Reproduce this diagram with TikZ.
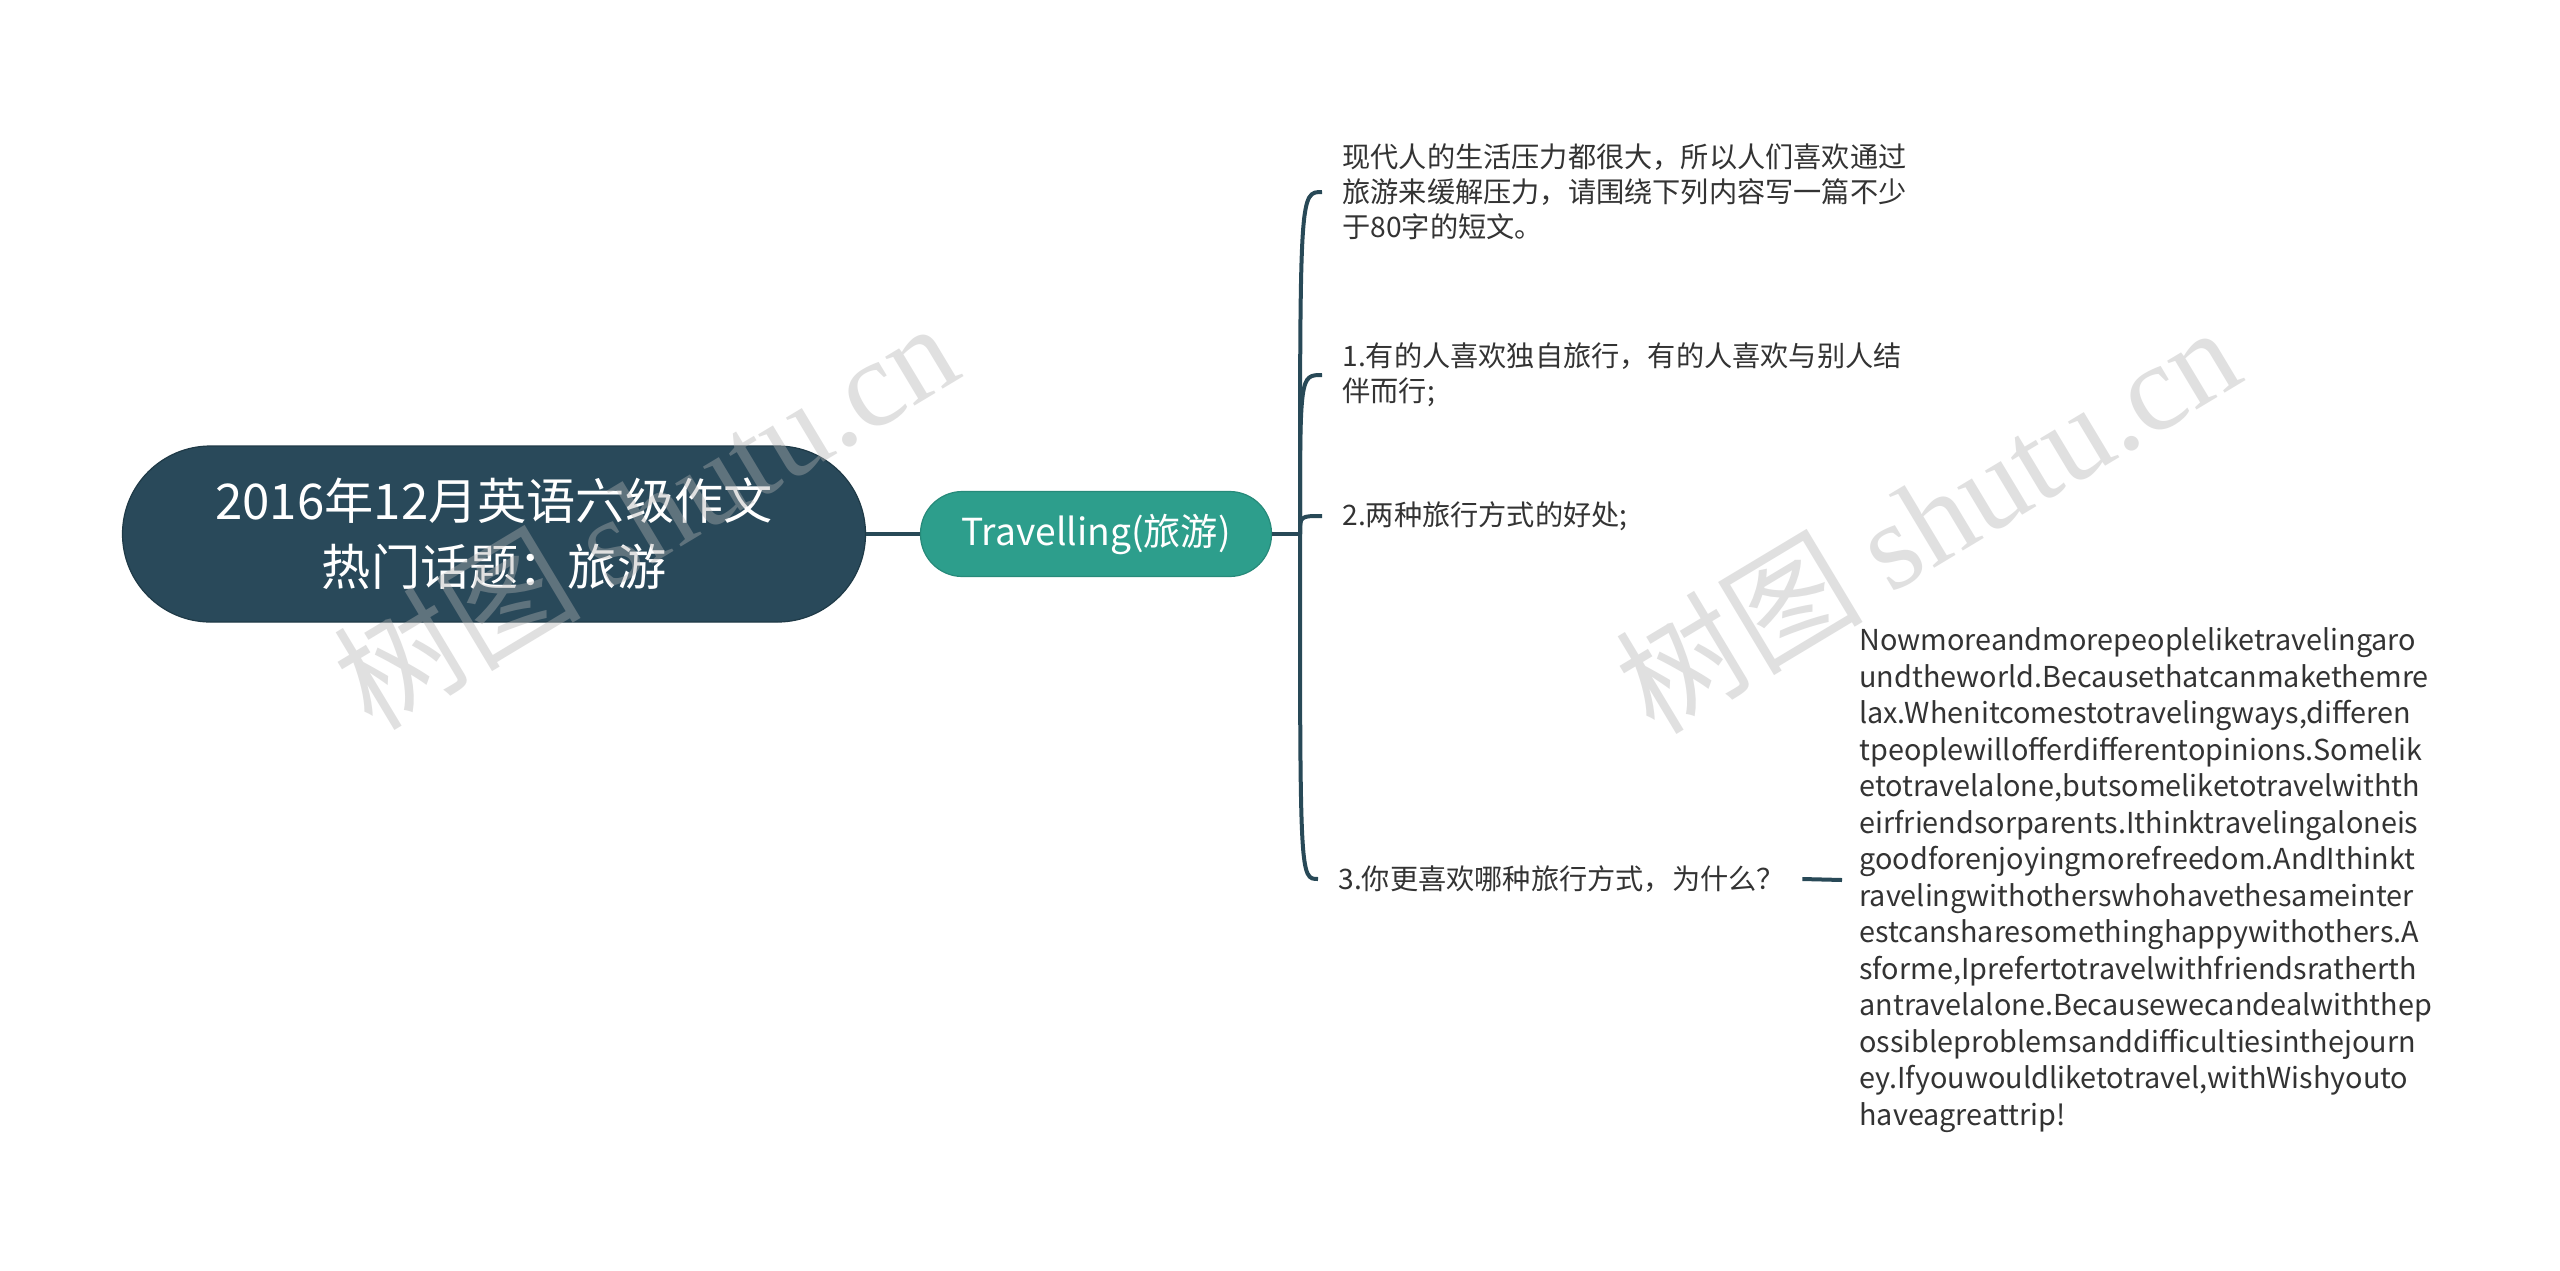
\documentclass[tikz,border=0pt]{standalone}
\usepackage{fontspec}
\setmainfont{Noto Sans CJK SC}
\newfontfamily\wmserif{Liberation Serif}
\newfontfamily\cjkf{Noto Sans CJK SC}
\definecolor{rootc}{HTML}{29495A}
\definecolor{rootd}{HTML}{1F3A47}
\definecolor{subc}{HTML}{2D9E8C}
\definecolor{subd}{HTML}{278A7A}
\definecolor{linec}{HTML}{284957}
\definecolor{leafc}{HTML}{333333}
\begin{document}
\begin{tikzpicture}[x=0.5pt,y=-0.5pt,
  conn/.style={draw=linec, line width=2pt},
  rootbox/.style={fill=rootc, draw=rootd, line width=0.6pt, rounded corners=44pt,
    minimum width=371.5pt, minimum height=88pt, text=white,
    font=\fontsize{24.6}{33}\selectfont, align=center, inner sep=0pt},
  subbox/.style={fill=subc, draw=subd, line width=0.6pt, rounded corners=21pt,
    minimum width=175.5pt, minimum height=42.5pt, text=white,
    font=\fontsize{18.6}{22}\selectfont, inner sep=0pt},
  leaf/.style={anchor=west, inner sep=0pt, text=leafc, align=left,
    font=\fontsize{14.1}{17.5}\selectfont},
  wm/.style={text=gray!60, opacity=0.4, rotate=31, inner sep=0pt,
    font=\fontsize{62}{62}\selectfont}]
\useasboundingbox (0,0) rectangle (2560,1270);
\fill[white] (0,0) rectangle (2560,1270);

\node[rootbox] (root) at (494,534) {2016年12月英语六级作文\\热门话题：旅游};
\node[subbox] (sub) at (1096,534) {Travelling(旅游)};
\draw[conn] (root.east) -- (sub.west);
\coordinate (sp) at (1300,534);
\draw[conn] (sub.east) -- (sp);

\node[leaf] (c0) at (1342,192) {现代人的生活压力都很大，所以人们喜欢通过\\旅游来缓解压力，请围绕下列内容写一篇不少\\于80字的短文。};
\node[leaf] (c1) at (1342,375) {1.有的人喜欢独自旅行，有的人喜欢与别人结\\伴而行;};
\node[leaf] (c2) at (1342,516) {2.两种旅行方式的好处;};
\node[leaf] (c3) at (1338,879) {3.你更喜欢哪种旅行方式，为什么？};
\node[leaf, font=\fontsize{14.4}{18.25}\selectfont] (long) at (1859,880) {Nowmoreandmorepeopleliketravelingaro\\
undtheworld.Becausethatcanmakethemre\\
lax.Whenitcomestotravelingways,differen\\
tpeoplewillofferdifferentopinions.Somelik\\
etotravelalone,butsomeliketotravelwithth\\
eirfriendsorparents.Ithinktravelingaloneis\\
goodforenjoyingmorefreedom.AndIthinkt\\
ravelingwithotherswhohavethesameinter\\
estcansharesomethinghappywithothers.A\\
sforme,Iprefertotravelwithfriendsratherth\\
antravelalone.Becausewecandealwiththep\\
ossibleproblemsanddifficultiesinthejourn\\
ey.Ifyouwouldliketotravel,withWishyouto\\
haveagreattrip!};

\foreach \c in {c0,c1,c2,c3}{
  \draw[conn] (sp) .. controls (sp |- \c.west) and (sp |- \c.west) .. ([xshift=-10pt]\c.west);
}
\draw[conn] ([xshift=8.5pt]c3.east) -- ([xshift=-8.5pt]long.west);

\node[wm] (w1) at (645,514) {{\cjkf 树图} {\wmserif shutu.cn}};
\node[wm] (w2) at (1927,518) {{\cjkf 树图} {\wmserif shutu.cn}};
\end{tikzpicture}
\end{document}
